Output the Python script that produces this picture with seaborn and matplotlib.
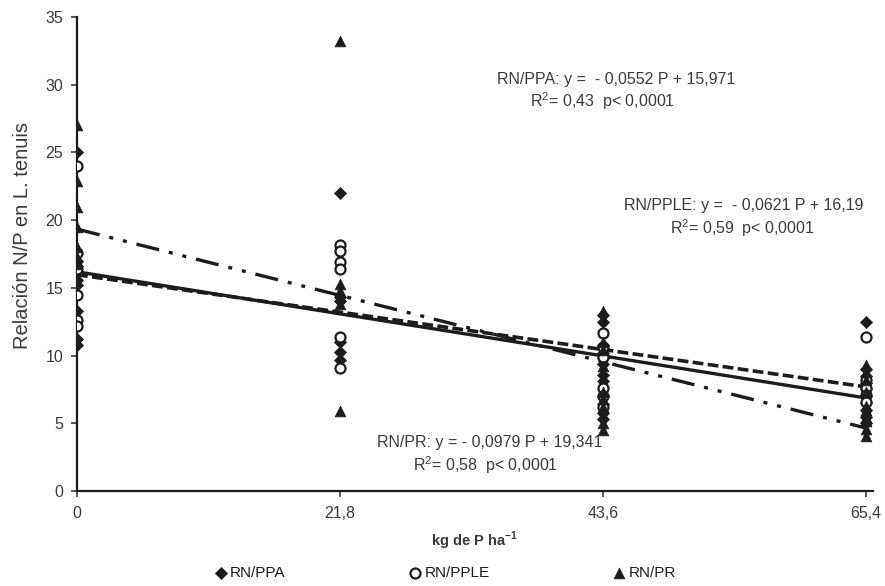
import numpy as np
import pandas as pd
import matplotlib
matplotlib.use("Agg")
import matplotlib.pyplot as plt
import seaborn as sns

# doses en kg P2O5 (la ecuación usa P2O5), etiquetas en kg P
dosis = [0, 50, 100, 150]
etiquetas_x = ["0", "21,8", "43,6", "65,4"]

ppa = {
    0: [25.0, 17.0, 16.6, 16.2, 15.6, 15.2, 13.3, 11.2, 10.8],
    50: [22.0, 14.3, 14.0, 11.0, 10.3, 9.7],
    100: [13.0, 12.5, 10.8, 10.2, 9.8, 9.4, 8.6, 8.1, 7.0, 6.4, 5.8, 5.3],
    150: [12.5, 9.0, 8.5, 8.0, 7.5, 7.0, 6.5, 6.0, 5.5, 5.0],
}
pple = {
    0: [24.0, 17.6, 16.4, 14.5, 12.6, 12.2],
    50: [18.2, 17.7, 16.9, 16.4, 11.4, 9.1],
    100: [11.7, 10.6, 9.9, 7.6, 7.0, 6.2],
    150: [11.4, 8.2, 7.6, 7.1, 6.6],
}
pr = {
    0: [27.0, 22.9, 21.0, 19.5, 18.0, 17.3, 16.8],
    50: [33.2, 15.3, 14.8, 14.4, 13.8, 5.9],
    100: [13.3, 11.0, 10.4, 9.2, 7.3, 6.8, 6.2, 5.6, 5.0, 4.5],
    150: [9.3, 8.8, 8.2, 7.3, 6.3, 6.0, 5.5, 5.2, 4.6, 4.1],
}

# pendiente, ordenada
coef_ppa = (-0.0552, 15.971)
coef_pple = (-0.0621, 16.19)
coef_pr = (-0.0979, 19.341)

def a_tabla(d, nombre):
    filas = [(x, v, nombre) for x in d for v in d[x]]
    return pd.DataFrame(filas, columns=["dosis", "np", "serie"])

df = pd.concat([a_tabla(ppa, "RN/PPA"), a_tabla(pple, "RN/PPLE"), a_tabla(pr, "RN/PR")])

sns.set_style("white")
plt.rcParams["font.family"] = ["Liberation Sans", "DejaVu Sans"]
gris = "#3a3a3a"
negro = "#1c1c1c"

fig = plt.figure(figsize=(8.85, 5.86), dpi=100)
ax = fig.add_axes([0.087, 0.162, 0.899, 0.809])

# rectas de regresión
xs = np.array([dosis[0], dosis[-1]])
ax.plot(xs, coef_ppa[1] + coef_ppa[0] * xs, color=negro, lw=2.6, dashes=(3, 1.2), zorder=3)
ax.plot(xs, coef_pple[1] + coef_pple[0] * xs, color=negro, lw=2.4, zorder=3)
ax.plot(xs, coef_pr[1] + coef_pr[0] * xs, color=negro, lw=2.4,
        dashes=(7, 3, 1.2, 3, 1.2, 3), zorder=3)

sns.scatterplot(data=df[df.serie == "RN/PPA"], x="dosis", y="np", marker="D", s=38,
                color=negro, edgecolor=negro, linewidth=0.5, label="RN/PPA", ax=ax, zorder=4)
sns.scatterplot(data=df[df.serie == "RN/PPLE"], x="dosis", y="np", marker="o", s=52,
                color="white", edgecolor=negro, linewidth=1.6, label="RN/PPLE", ax=ax, zorder=4)
sns.scatterplot(data=df[df.serie == "RN/PR"], x="dosis", y="np", marker="^", s=60,
                color=negro, edgecolor=negro, linewidth=0.5, label="RN/PR", ax=ax, zorder=4)

ax.set_xlim(0, 151.3)
ax.set_ylim(0, 35)
ax.set_xticks(dosis)
ax.set_xticklabels(etiquetas_x)
ax.set_yticks(range(0, 36, 5))
ax.tick_params(axis="both", labelsize=11.5, colors=gris, length=4, width=1.2, direction="out",
               bottom=True, left=True)
ax.tick_params(axis="x", pad=7)
ax.tick_params(axis="y", pad=6)
for s in ["top", "right"]:
    ax.spines[s].set_visible(False)
for s in ["left", "bottom"]:
    ax.spines[s].set_color(negro)
    ax.spines[s].set_linewidth(1.6)

ax.set_ylabel("Relación N/P en L. tenuis", fontsize=14.5, color=gris, labelpad=5)
ax.yaxis.set_label_coords(-0.056, 0.54)
ax.set_xlabel("kg de P ha$^{\\mathregular{-1}}$", fontsize=10.5, color=gris, fontweight="bold",
              labelpad=6)

txt = dict(fontsize=11.5, color=gris, ha="center", va="center")
ax.text(102.6, 30.35, "RN/PPA: y =  - 0,0552 P + 15,971", **txt)
ax.text(100.0, 28.8, "R$^{\\mathregular{2}}$= 0,43  p< 0,0001", **txt)
ax.text(126.8, 21.05, "RN/PPLE: y =  - 0,0621 P + 16,19", **txt)
ax.text(126.6, 19.4, "R$^{\\mathregular{2}}$= 0,59  p< 0,0001", **txt)
ax.text(78.5, 3.6, "RN/PR: y = - 0,0979 P + 19,341", **txt)
ax.text(77.6, 1.9, "R$^{\\mathregular{2}}$= 0,58  p< 0,0001", **txt)

leg = ax.legend(loc="upper center", bbox_to_anchor=(0.462, -0.135), ncol=3, frameon=False,
                fontsize=11, columnspacing=8.0, handletextpad=0.1, handlelength=1.0,
                borderpad=0.2)
for t in leg.get_texts():
    t.set_color(negro)

fig.savefig("out.png", dpi=100)
